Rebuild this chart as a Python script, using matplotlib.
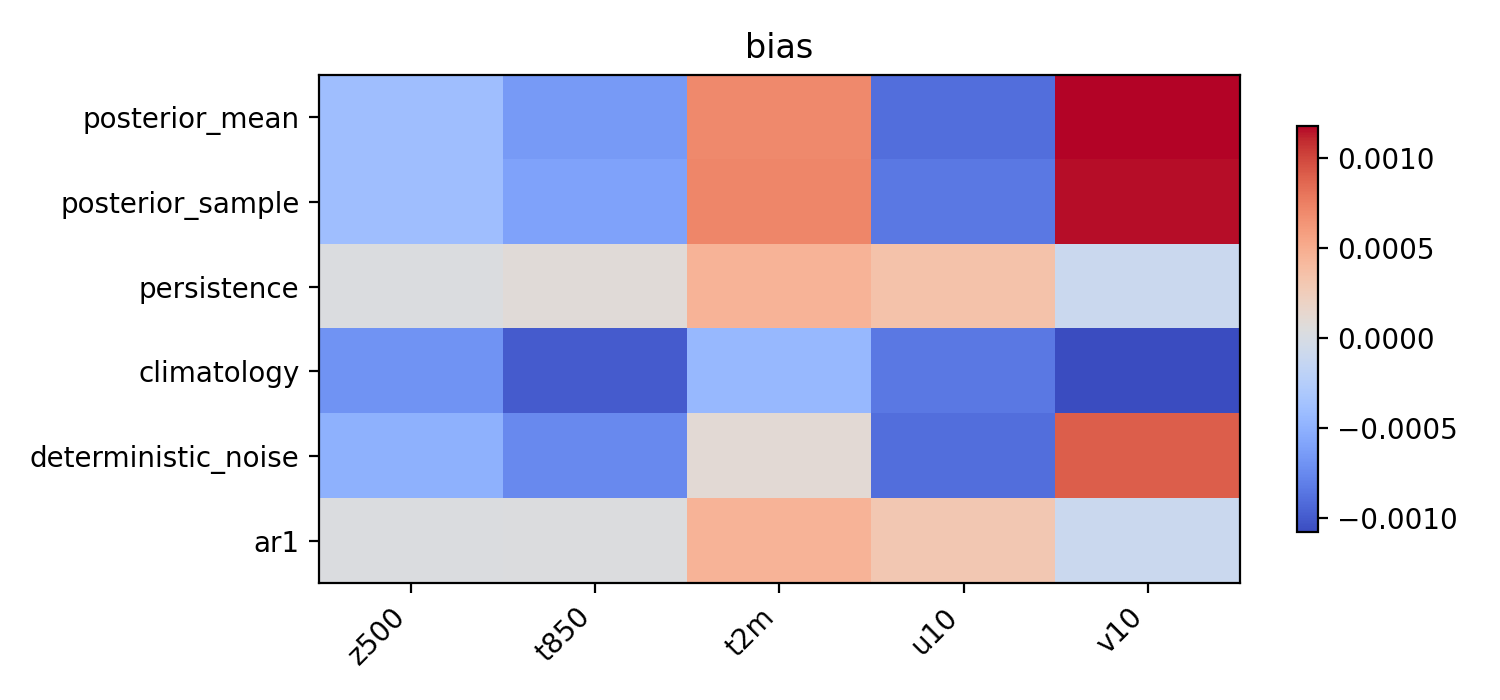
import matplotlib as mpl
mpl.use("Agg")
import matplotlib.pyplot as plt
import numpy as np

methods = ["posterior_mean", "posterior_sample", "persistence", "climatology",
           "deterministic_noise", "ar1"]
variables = ["z500", "t850", "t2m", "u10", "v10"]
bias = np.array([
    [-0.00040, -0.00065, 0.00070, -0.00090, 0.00118],
    [-0.00040, -0.00060, 0.00072, -0.00085, 0.00116],
    [0.00003, 0.00008, 0.00045, 0.00035, -0.00010],
    [-0.00070, -0.00100, -0.00045, -0.00085, -0.00108],
    [-0.00050, -0.00075, 0.00010, -0.00090, 0.00090],
    [0.00003, 0.00004, 0.00045, 0.00030, -0.00010],
])

fig, ax = plt.subplots(figsize=(7.5, 3.5))
im = ax.imshow(bias, cmap="coolwarm", aspect="auto")
ax.set_xticks(range(len(variables)))
ax.set_xticklabels(variables, rotation=45, ha="right")
ax.set_yticks(range(len(methods)))
ax.set_yticklabels(methods)
ax.set_title("bias")
fig.colorbar(im, ax=ax, shrink=0.8)
fig.tight_layout()
fig.savefig("out.png", dpi=200)
